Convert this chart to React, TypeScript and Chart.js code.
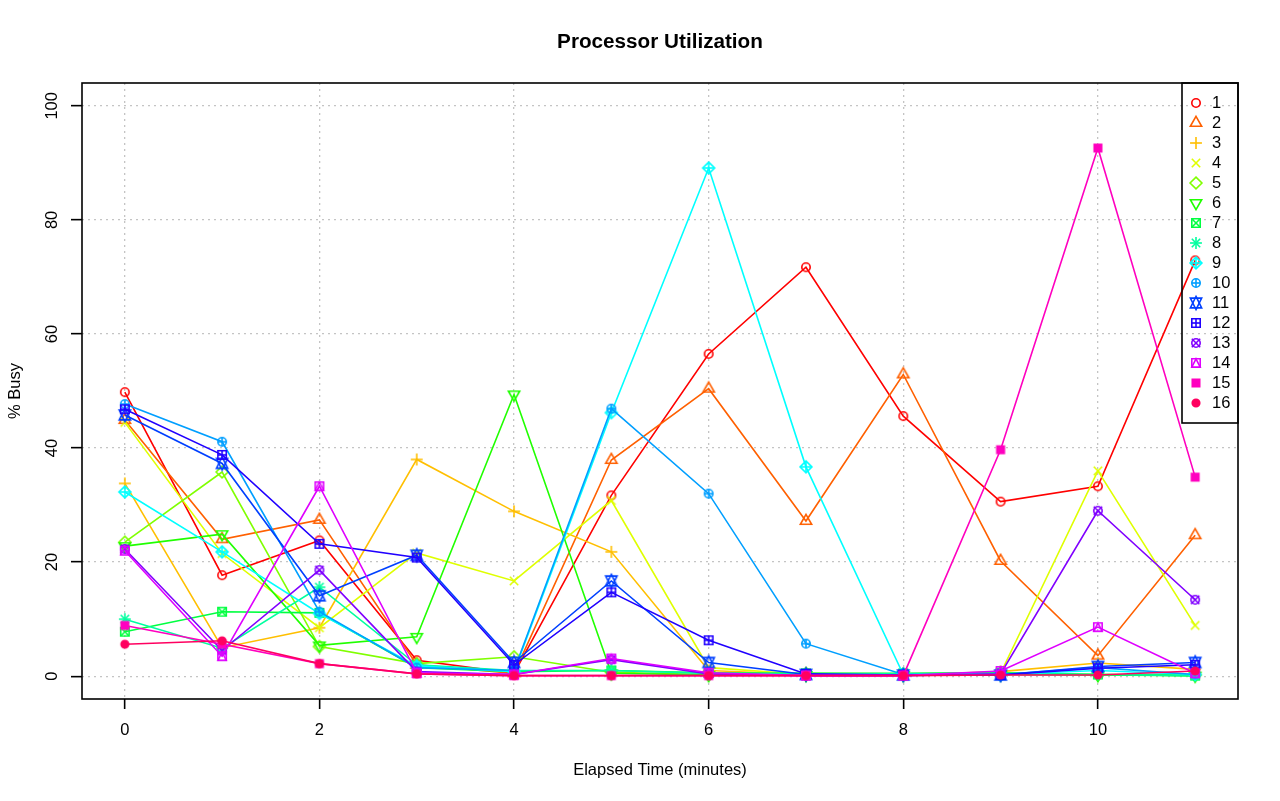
import React, { useEffect, useRef } from "react";
import { Chart, registerables } from "chart.js";

Chart.register(...registerables);

const times = [0, 1, 2, 3, 4, 5, 6, 7, 8, 9, 10, 11];
const cpu1 = [49.8, 17.7, 23.8, 2.8, 0.5, 31.7, 56.5, 71.7, 45.6, 30.6, 33.3, 72.9];
const cpu2 = [44.9, 24.0, 27.4, 2.0, 0.5, 37.9, 50.4, 27.2, 52.9, 20.2, 3.6, 24.7];
const cpu3 = [33.8, 5.0, 8.5, 38.0, 28.9, 21.8, 1.0, 0.3, 0.2, 0.8, 2.3, 1.2];
const cpu4 = [44.5, 21.5, 8.5, 21.6, 16.7, 30.8, 1.5, 0.3, 0.2, 0.5, 36.0, 8.9];
const cpu5 = [23.5, 35.8, 5.2, 2.2, 3.4, 0.7, 0.3, 0.5, 0.4, 0.6, 0.3, 0.2];
const cpu6 = [22.8, 24.9, 5.4, 6.9, 49.4, 0.5, 0.2, 0.2, 0.2, 0.3, 0.2, 0.1];
const cpu7 = [7.8, 11.3, 11.1, 1.5, 0.8, 1.0, 0.6, 0.5, 0.5, 0.6, 0.3, 0.1];
const cpu8 = [10.0, 4.9, 15.6, 2.0, 1.0, 1.0, 0.5, 0.4, 0.4, 0.5, 0.3, 0.1];
const cpu9 = [32.3, 21.8, 11.0, 1.8, 0.8, 46.2, 89.1, 36.7, 0.3, 0.3, 1.0, 0.3];
const cpu10 = [47.7, 41.1, 11.3, 1.5, 1.0, 46.9, 32.0, 5.7, 0.3, 0.3, 1.5, 0.3];
const cpu11 = [45.8, 37.3, 14.1, 21.2, 2.4, 16.7, 2.4, 0.3, 0.2, 0.2, 1.7, 2.4];
const cpu12 = [46.8, 38.8, 23.2, 20.8, 2.0, 14.7, 6.3, 0.4, 0.2, 0.2, 1.4, 2.0];
const cpu13 = [22.3, 4.5, 18.6, 0.8, 0.3, 2.9, 0.4, 0.1, 0.1, 0.4, 29.0, 13.4];
const cpu14 = [22.0, 3.5, 33.3, 0.6, 0.3, 3.1, 0.6, 0.1, 0.1, 0.9, 8.6, 0.5];
const cpu15 = [8.9, 5.6, 2.2, 0.4, 0.1, 0.1, 0.1, 0.1, 0.1, 39.7, 92.6, 34.9];
const cpu16 = [5.6, 6.2, 2.2, 0.4, 0.1, 0.1, 0.1, 0.1, 0.1, 0.2, 0.2, 0.9];

const seriesValues = [cpu1, cpu2, cpu3, cpu4, cpu5, cpu6, cpu7, cpu8, cpu9, cpu10, cpu11, cpu12, cpu13, cpu14, cpu15, cpu16];
const seriesNames = ["1", "2", "3", "4", "5", "6", "7", "8", "9", "10", "11", "12", "13", "14", "15", "16"];
const seriesColors = [
  "#FF0000", "#FF6000", "#FFBF00", "#DFFF00", "#80FF00", "#20FF00", "#00FF40", "#00FF9F",
  "#00FFFF", "#009FFF", "#0040FF", "#2000FF", "#8000FF", "#DF00FF", "#FF00BF", "#FF0060",
];
const seriesSymbols = [1, 2, 3, 4, 5, 6, 7, 8, 9, 10, 11, 12, 13, 14, 15, 16];
const xTicks = [0, 2, 4, 6, 8, 10];
const yTicks = [0, 20, 40, 60, 80, 100];

const titleText = "Processor Utilization";
const xTitle = "Elapsed Time (minutes)";
const yTitle = "% Busy";

const FONT = '"Liberation Sans", Arial, Helvetica, sans-serif';
const MS = 20;

function makeMarker(pch: number, color: string): HTMLCanvasElement {
  const c = document.createElement("canvas");
  c.width = MS;
  c.height = MS;
  const g = c.getContext("2d")!;
  g.translate(MS / 2, MS / 2);
  g.strokeStyle = color;
  g.fillStyle = color;
  g.lineWidth = 1.6;
  const r = 4.2;
  const S2 = Math.SQRT2;
  const line = (x1: number, y1: number, x2: number, y2: number) => {
    g.beginPath();
    g.moveTo(x1, y1);
    g.lineTo(x2, y2);
    g.stroke();
  };
  const poly = (pts: number[][], fill = false) => {
    g.beginPath();
    g.moveTo(pts[0][0], pts[0][1]);
    for (let i = 1; i < pts.length; i++) g.lineTo(pts[i][0], pts[i][1]);
    g.closePath();
    if (fill) g.fill();
    g.stroke();
  };
  const circ = (rad: number, fill = false) => {
    g.beginPath();
    g.arc(0, 0, rad, 0, Math.PI * 2);
    if (fill) g.fill();
    g.stroke();
  };
  const plus = (h: number) => {
    line(-h, 0, h, 0);
    line(0, -h, 0, h);
  };
  const cross = (h: number) => {
    line(-h, -h, h, h);
    line(-h, h, h, -h);
  };
  const sq = (h: number, fill = false) => poly([[-h, -h], [h, -h], [h, h], [-h, h]], fill);
  const TR = 1.5551203 * r;
  const TY = 0.77756015 * r;
  const TX = 1.34677368 * r;
  switch (pch) {
    case 1:
      circ(r);
      break;
    case 2:
      poly([[0, -TR], [TX, TY], [-TX, TY]]);
      break;
    case 3:
      plus(S2 * r);
      break;
    case 4:
      cross(r);
      break;
    case 5: {
      const h = S2 * r;
      poly([[0, -h], [h, 0], [0, h], [-h, 0]]);
      break;
    }
    case 6:
      poly([[0, TR], [TX, -TY], [-TX, -TY]]);
      break;
    case 7:
      sq(r);
      cross(r);
      break;
    case 8:
      cross(r);
      plus(S2 * r);
      break;
    case 9: {
      const h = S2 * r;
      poly([[0, -h], [h, 0], [0, h], [-h, 0]]);
      plus(h);
      break;
    }
    case 10:
      circ(r);
      plus(r);
      break;
    case 11: {
      const yc = 0.5 * (TY + TR);
      poly([[0, TR], [TX, -yc], [-TX, -yc]]);
      poly([[0, -TR], [TX, yc], [-TX, yc]]);
      break;
    }
    case 12:
      sq(r);
      plus(r);
      break;
    case 13:
      circ(r);
      cross(r);
      break;
    case 14:
      poly([[0, -r], [r, r], [-r, r]]);
      sq(r);
      break;
    case 15:
      sq(r * 0.886, true);
      break;
    case 16:
      circ(r * 0.9, true);
      break;
  }
  return c;
}

export default function App() {
  const ref = useRef<HTMLCanvasElement | null>(null);

  useEffect(() => {
    const canvas = ref.current;
    if (!canvas) return;
    const markers = seriesSymbols.map((p, i) => makeMarker(p, seriesColors[i]));

    const datasets = seriesValues.map((vals, i) => ({
      label: seriesNames[i],
      data: times.map((t, j) => ({ x: t, y: vals[j] })),
      borderColor: seriesColors[i],
      backgroundColor: seriesColors[i],
      borderWidth: 1.6,
      pointStyle: markers[i] as any,
      pointRadius: 5,
      tension: 0,
      order: 16 - i,
      clip: false as any,
    }));

    const decor = {
      id: "decor",
      afterDraw(chart: any) {
        const ctx = chart.ctx as CanvasRenderingContext2D;
        const a = chart.chartArea;
        const xs = chart.scales.x;
        const ys = chart.scales.y;
        ctx.save();
        ctx.strokeStyle = "#000";
        ctx.lineWidth = 1.6;
        ctx.strokeRect(a.left, a.top, a.right - a.left, a.bottom - a.top);
        ctx.fillStyle = "#000";
        ctx.font = `bold 20.7px ${FONT}`;
        ctx.textAlign = "center";
        ctx.textBaseline = "middle";
        ctx.fillText(titleText, (a.left + a.right) / 2, 42);
        ctx.font = `16.5px ${FONT}`;
        for (const v of xTicks) {
          ctx.fillText(String(v), xs.getPixelForValue(v), 730);
        }
        ctx.fillText(xTitle, (a.left + a.right) / 2, 770);
        for (const v of yTicks) {
          ctx.save();
          ctx.translate(52, ys.getPixelForValue(v));
          ctx.rotate(-Math.PI / 2);
          ctx.fillText(String(v), 0, 0);
          ctx.restore();
        }
        ctx.save();
        ctx.translate(15, (a.top + a.bottom) / 2);
        ctx.rotate(-Math.PI / 2);
        ctx.fillText(yTitle, 0, 0);
        ctx.restore();
        const lw = 56;
        const lx = a.right - lw;
        const ly = a.top;
        const lh = 340;
        ctx.strokeStyle = "#000";
        ctx.lineWidth = 1.6;
        ctx.strokeRect(lx, ly, lw, lh);
        ctx.textAlign = "left";
        for (let i = 0; i < seriesNames.length; i++) {
          const yy = ly + 20 + i * 20;
          ctx.drawImage(markers[i], lx + 14 - MS / 2, yy - MS / 2);
          ctx.fillStyle = "#000";
          ctx.fillText(seriesNames[i], lx + 30, yy);
        }
        ctx.restore();
      },
    };

    const chart = new Chart(canvas, {
      type: "line",
      data: { datasets: datasets as any },
      options: {
        responsive: false,
        animation: false,
        devicePixelRatio: 1,
        layout: { padding: { left: 0, right: 42, top: 83, bottom: 0 } },
        plugins: { legend: { display: false }, title: { display: false }, tooltip: { enabled: false } },
        scales: {
          x: {
            type: "linear",
            min: -0.44,
            max: 11.44,
            afterBuildTicks: (s: any) => {
              s.ticks = xTicks.map((v) => ({ value: v }));
            },
            afterFit: (s: any) => {
              s.height = 102;
            },
            ticks: { display: false },
            grid: { color: "#C4C4C4", lineWidth: 1.3, tickColor: "#000", tickLength: 10, tickWidth: 1.6 },
            border: { display: false, dash: [2, 4] },
          },
          y: {
            type: "linear",
            min: -4,
            max: 104,
            afterBuildTicks: (s: any) => {
              s.ticks = yTicks.map((v) => ({ value: v }));
            },
            afterFit: (s: any) => {
              s.width = 82;
            },
            ticks: { display: false },
            grid: { color: "#C4C4C4", lineWidth: 1.3, tickColor: "#000", tickLength: 11, tickWidth: 1.6 },
            border: { display: false, dash: [2, 4] },
          },
        },
      },
      plugins: [decor],
    });
    return () => chart.destroy();
  }, []);

  return (
    <div style={{ position: "absolute", left: 0, top: 0, width: 1280, height: 801, background: "#fff" }}>
      <canvas ref={ref} width={1280} height={801} style={{ display: "block", width: 1280, height: 801 }} />
    </div>
  );
}
